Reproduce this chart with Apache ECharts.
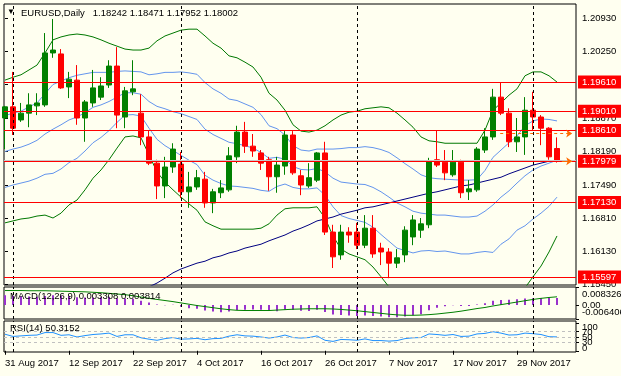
<!DOCTYPE html>
<html><head><meta charset="utf-8">
<script src="https://cdn.jsdelivr.net/npm/echarts@6/dist/echarts.min.js"></script>
<style>html,body{margin:0;padding:0;background:#FFFFF0;}#c{width:621px;height:376px;}</style>
</head><body><div id="c"></div>
<script>
// ---- price data (EURUSD daily, bar index 0 = 31 Aug 2017) ----
const openP  = [1.1887,1.1910,1.1883,1.1897,1.1912,1.1914,1.2021,1.2019,1.1951,1.1965,
                1.1887,1.1918,1.1930,1.1955,1.1994,1.1889,1.1941,1.1897,1.1848,1.1794,
                1.1747,1.1786,1.1792,1.1735,1.1745,1.1761,1.1712,1.1733,1.1739,1.1807,
                1.1858,1.1829,1.1815,1.1801,1.1766,1.1788,1.1852,1.1768,1.1747,1.1759,
                1.1815,1.1652,1.1605,1.1652,1.1652,1.1625,1.1660,1.1619,1.1611,1.1588,
                1.1605,1.1642,1.1656,1.1667,1.1801,1.1796,1.1770,1.1796,1.1735,1.1739,
                1.1821,1.1848,1.1930,1.1897,1.1838,1.1848,1.1903,1.1889,1.1866,1.18242];
const closeP = [1.1910,1.1866,1.1897,1.1914,1.1918,1.2021,1.2027,1.1949,1.1967,1.1887,
                1.1920,1.1949,1.1953,1.1994,1.1893,1.1943,1.1947,1.1848,1.1794,1.1747,
                1.1786,1.1823,1.1735,1.1745,1.1764,1.1712,1.1735,1.1743,1.1809,1.1858,
                1.1829,1.1819,1.1794,1.1766,1.1790,1.1852,1.1774,1.1749,1.1764,1.1815,
                1.1652,1.1601,1.1652,1.1646,1.1625,1.1660,1.1607,1.1611,1.1588,1.1599,
                1.1656,1.1677,1.1669,1.1798,1.1790,1.1774,1.1796,1.1733,1.1741,1.1823,
                1.1848,1.1930,1.1897,1.1838,1.1848,1.1903,1.1889,1.1866,1.1807,1.18002];
const lowP   = [1.1823,1.1852,1.1879,1.1868,1.1893,1.1910,1.2011,1.1947,1.1928,1.1873,
                1.1838,1.1910,1.1924,1.1949,1.1866,1.1866,1.1934,1.1831,1.1790,1.1720,
                1.1722,1.1774,1.1722,1.1702,1.1739,1.1702,1.1691,1.1722,1.1735,1.1794,
                1.1815,1.1807,1.1780,1.1737,1.1733,1.1770,1.1770,1.1728,1.1743,1.1755,
                1.1646,1.1578,1.1595,1.1630,1.1617,1.1619,1.1599,1.1584,1.1557,1.1578,
                1.1590,1.1625,1.1640,1.1660,1.1786,1.1759,1.1766,1.1722,1.1718,1.1735,
                1.1815,1.1842,1.1893,1.1827,1.1817,1.1811,1.1862,1.1831,1.1801,1.17952];
const highP  = [1.1912,1.1982,1.1918,1.1938,1.1938,1.2062,1.2091,1.2029,1.1982,1.1996,
                1.1924,1.1986,1.1971,1.2006,1.2033,1.1951,1.2006,1.1936,1.1862,1.1801,
                1.1807,1.1835,1.1817,1.1776,1.1780,1.1776,1.1741,1.1759,1.1827,1.1871,
                1.1879,1.1854,1.1821,1.1807,1.1807,1.1860,1.1860,1.1780,1.1794,1.1817,
                1.1838,1.1667,1.1667,1.1662,1.1671,1.1687,1.1687,1.1630,1.1619,1.1617,
                1.1664,1.1687,1.1681,1.1805,1.1862,1.1821,1.1821,1.1801,1.1759,1.1827,
                1.1866,1.1947,1.1961,1.1907,1.1887,1.1930,1.1941,1.1893,1.1868,1.18471];
// Bollinger bands: outer (green), inner and middle (blue)
const bbUpper2 = [1.1965,1.1971,1.1976,1.1986,1.1996,1.2021,1.2048,1.2054,1.2058,1.2060,
                  1.2058,1.2054,1.2048,1.2041,1.2035,1.2029,1.2027,1.2027,1.2031,1.2046,
                  1.2056,1.2062,1.2068,1.2070,1.2070,1.2056,1.2041,1.2031,1.2015,1.2011,
                  1.2002,1.1992,1.1971,1.1938,1.1924,1.1903,1.1873,1.1860,1.1858,1.1862,
                  1.1871,1.1883,1.1893,1.1899,1.1901,1.1906,1.1908,1.1910,1.1908,1.1897,
                  1.1883,1.1868,1.1848,1.1840,1.1838,1.1835,1.1835,1.1835,1.1835,1.1835,
                  1.1862,1.1903,1.1918,1.1934,1.1947,1.1974,1.1982,1.1982,1.1974,1.1961];
const bbLower2 = [1.1671,1.1675,1.1679,1.1681,1.1685,1.1687,1.1681,1.1691,1.1708,1.1718,
                  1.1739,1.1763,1.1780,1.1801,1.1825,1.1848,1.1850,1.1846,1.1811,1.1776,
                  1.1755,1.1739,1.1724,1.1710,1.1697,1.1673,1.1665,1.1658,1.1658,1.1658,
                  1.1658,1.1658,1.1660,1.1669,1.1687,1.1700,1.1702,1.1702,1.1702,1.1704,
                  1.1681,1.1644,1.1617,1.1607,1.1601,1.1595,1.1580,1.1560,1.1539,null,
                  null,null,null,null,null,null,null,null,null,null,
                  null,null,null,null,1.1516,1.1537,1.1560,1.1582,1.1611,1.1644];
const bbMiddle = [1.1818,1.1823,1.1827,1.1833,1.1841,1.1854,1.1864,1.1873,1.1883,1.1889,
                  1.1898,1.1909,1.1914,1.1921,1.1930,1.1939,1.1939,1.1936,1.1921,1.1911,
                  1.1906,1.1900,1.1896,1.1890,1.1884,1.1864,1.1853,1.1845,1.1837,1.1834,
                  1.1830,1.1825,1.1816,1.1804,1.1806,1.1802,1.1787,1.1781,1.1780,1.1783,
                  1.1776,1.1763,1.1755,1.1753,1.1751,1.1750,1.1744,1.1735,1.1724,1.1712,
                  1.1704,1.1695,1.1691,1.1689,1.1687,1.1687,1.1685,1.1683,1.1683,1.1685,
                  1.1695,1.1708,1.1724,1.1737,1.1753,1.1768,1.1780,1.1788,1.1794,1.1800];
const bbUpper1 = [1.1892,1.1897,1.1901,1.1910,1.1918,1.1937,1.1956,1.1963,1.1970,1.1975,
                  1.1978,1.1981,1.1981,1.1981,1.1983,1.1984,1.1983,1.1982,1.1976,1.1978,
                  1.1981,1.1981,1.1982,1.1980,1.1977,1.1960,1.1947,1.1938,1.1926,1.1923,
                  1.1916,1.1909,1.1894,1.1871,1.1865,1.1852,1.1830,1.1821,1.1819,1.1823,
                  1.1823,1.1823,1.1824,1.1826,1.1826,1.1828,1.1826,1.1822,1.1816,1.1805,
                  1.1793,1.1782,1.1770,1.1764,1.1762,1.1761,1.1760,1.1759,1.1759,1.1760,
                  1.1779,1.1806,1.1821,1.1836,1.1850,1.1871,1.1881,1.1885,1.1884,1.1881];
const bbLower1 = [1.1744,1.1749,1.1753,1.1757,1.1763,1.1771,1.1773,1.1782,1.1795,1.1804,
                  1.1819,1.1836,1.1847,1.1861,1.1878,1.1893,1.1894,1.1891,1.1866,1.1843,
                  1.1830,1.1820,1.1810,1.1800,1.1791,1.1769,1.1759,1.1752,1.1747,1.1746,
                  1.1744,1.1742,1.1738,1.1736,1.1746,1.1751,1.1744,1.1741,1.1741,1.1743,
                  1.1728,1.1704,1.1686,1.1680,1.1676,1.1672,1.1662,1.1647,1.1633,1.1619,
                  1.1614,1.1609,1.1613,1.1614,1.1612,1.1613,1.1610,1.1607,1.1607,1.1610,
                  1.1612,1.1610,1.1627,1.1638,1.1656,1.1665,1.1679,1.1691,1.1705,1.1724];
const longMA = [null,null,null,null,null,null,null,null,null,null,
                null,null,null,null,null,null,null,null,1.1539,1.1547,
                1.1557,1.1568,1.1576,1.1582,1.1588,1.1592,1.1599,1.1603,1.1609,1.1613,
                1.1619,1.1623,1.1627,1.1634,1.1640,1.1646,1.1654,1.1660,1.1667,1.1675,
                1.1679,1.1683,1.1689,1.1693,1.1697,1.1702,1.1704,1.1708,1.1712,1.1716,
                1.1720,1.1724,1.1728,1.1732,1.1735,1.1739,1.1743,1.1747,1.1749,1.1753,
                1.1757,1.1761,1.1765,1.1772,1.1778,1.1784,1.1790,1.1794,1.1798,1.1800];
// MACD(12,26,9): main (histogram) and signal
const macdMain = [0.0045,0.0043,0.0041,0.0040,0.0038,0.0042,0.0045,0.0043,0.0042,0.0036,
                  0.0035,0.0035,0.0036,0.0038,0.0031,0.0030,0.0029,0.0020,0.0012,0.0003,
                  -0.0001,0.0001,-0.0008,-0.0014,-0.0017,-0.0025,-0.0030,-0.0033,-0.0030,-0.0023,
                  -0.0021,-0.0020,-0.0022,-0.0027,-0.0028,-0.0020,-0.0022,-0.0026,-0.0027,-0.0022,
                  -0.0032,-0.0043,-0.0046,-0.0048,-0.0050,-0.0048,-0.0050,-0.0053,-0.0056,-0.0056,
                  -0.0052,-0.0047,-0.0042,-0.0024,-0.0012,-0.0005,-0.0001,-0.0004,-0.0004,0.0003,
                  0.0008,0.0020,0.0023,0.0025,0.0027,0.0030,0.0032,0.0033,0.0033,0.003308];
const macdSignal = [0.0067,0.0067,0.0067,0.0066,0.0066,0.0066,0.0065,0.0064,0.0063,0.0062,
                    0.0061,0.0059,0.0057,0.0054,0.0051,0.0048,0.0043,0.0037,0.0031,0.0026,
                    0.0021,0.0016,0.0010,0.0004,-0.0002,-0.0007,-0.0012,-0.0017,-0.0021,-0.0024,
                    -0.0025,-0.0025,-0.0025,-0.0025,-0.0023,-0.0021,-0.0019,-0.0018,-0.0017,-0.0017,
                    -0.0017,-0.0018,-0.0020,-0.0023,-0.0026,-0.0030,-0.0034,-0.0038,-0.0042,-0.0045,
                    -0.0047,-0.0047,-0.0046,-0.0044,-0.0041,-0.0037,-0.0033,-0.0028,-0.0022,-0.0016,
                    -0.0011,-0.0004,0.0002,0.0008,0.0014,0.0020,0.0026,0.0031,0.0035,0.003814];
// RSI(14)
const rsi = [60,52,54,56,57,66,66,56,58,50,
             55,59,61,64,52,58,58,47,42,38,
             44,48,42,43,45,40,44,45,53,58,
             54,53,50,46,50,57,48,46,48,54,
             38,34,41,40,38,43,37,37,35,37,
             44,47,48,61,59,56,59,52,53,61,
             63,69,64,57,58,64,62,59,51,50.3152];
// levels and labels
const redLevels = [1.19610, 1.19010, 1.18610, 1.17979, 1.17130, 1.15597];
const bidPrice = 1.18002;
const orderLevel = 1.1855;
const priceTicks = [1.2093, 1.2025, 1.1957, 1.1887, 1.1819, 1.1749, 1.1681, 1.1613, 1.1545];
const macdTicks = [0.008326, 0, -0.006406];
const macdTickText = ['0.008326', '0.00', '-0.006406'];
const rsiTicks = [100, 70, 50, 30, 0];
const rsiLevels = [70, 50, 30];
const monthStartBars = [1, 22, 44, 66];
const dateBars = [0, 8, 16, 24, 32, 40, 48, 56, 64];
const dateLabels = ['31 Aug 2017','12 Sep 2017','22 Sep 2017','4 Oct 2017','16 Oct 2017',
                    '26 Oct 2017','7 Nov 2017','17 Nov 2017','29 Nov 2017'];

const FONT = '"Liberation Sans", Arial, sans-serif';
const FS = 9.5;
const last = openP.length - 1;
const pairs = arr => arr.map((v, i) => [i, v]);
const candles = openP.map((o, i) => [i, o, closeP[i], lowP[i], highP[i]]);
const xBase = {type: 'value', min: -0.125, max: 71.375, show: false};
const sepLines = monthStartBars.map(b => ({xAxis: b}));
const sepStyle = {color: '#000', type: [3, 3], width: 1};
const MACD_MIN = -0.006406, MACD_MAX = 0.008326, RSI_MIN = -4.5, RSI_MAX = 108;

// one axis per sub-window label so that overlapping labels all stay visible (as in the original)
function labelAxis(grid, min, max, v, text, pad) {
  return {type: 'value', gridIndex: grid, position: 'right', min: min, max: max,
    axisLine: {show: false}, splitLine: {show: false},
    axisTick: {show: true, customValues: [v], length: 3, lineStyle: {color: '#000'}},
    axisLabel: {customValues: [v], margin: 6, color: '#000', fontFamily: FONT, fontSize: FS, hideOverlap: false,
      formatter: () => '{a|' + text + '}', rich: {a: {fontSize: FS, fontFamily: FONT, color: '#000', padding: pad}}}};
}
const macdPads = [[15, 0, 0, 0], [0, 0, 0, 0], [0, 0, 13, 0]];
const rsiPads = [[8, 0, 0, 0], [2, 0, 0, 0], [0, 0, 0, 0], [0, 0, 1, 0], [0, 0, 5, 0]];

const chart = echarts.init(document.getElementById('c'), null, {renderer: 'canvas'});
const lineS = (data, color) => ({
  type: 'line', xAxisIndex: 0, yAxisIndex: 0, data: pairs(data), showSymbol: false, symbol: 'none',
  lineStyle: {color: color, width: 1}, silent: true, z: 3
});
const ts = {fontSize: FS, fontFamily: FONT, color: '#000', fontWeight: 'normal'};
const gridBase = {left: 4, width: 572, show: true, borderColor: '#000', borderWidth: 1,
                  backgroundColor: 'transparent', containLabel: false, outerBoundsMode: 'none'};

chart.setOption({
  animation: false,
  backgroundColor: '#FFFFF0',
  textStyle: {fontFamily: FONT},
  title: [
    {text: '\u25BC', left: 7, top: 8, padding: 0, textStyle: {fontSize: 8, color: '#000', fontWeight: 'normal'}},
    {text: 'EURUSD,Daily   ' + [openP[last], highP[last], lowP[last], closeP[last]].map(v => v.toFixed(5)).join(' '),
     left: 21, top: 8, padding: 0, textStyle: ts},
    {text: 'MACD(12,26,9) ' + macdMain[last].toFixed(6) + ' ' + macdSignal[last].toFixed(6),
     left: 10, top: 291, padding: 0, textStyle: ts},
    {text: 'RSI(14) ' + rsi[last].toFixed(4),
     left: 10, top: 323, padding: 0, textStyle: ts}
  ],
  grid: [
    Object.assign({top: 4, height: 281}, gridBase),
    Object.assign({top: 287, height: 32}, gridBase),
    Object.assign({top: 321, height: 31}, gridBase)
  ],
  xAxis: [
    Object.assign({gridIndex: 0}, xBase),
    Object.assign({gridIndex: 1}, xBase),
    Object.assign({}, xBase, {gridIndex: 2, show: true,
      axisLine: {show: false},
      splitLine: {show: false},
      axisTick: {show: true, customValues: dateBars, length: 4, lineStyle: {color: '#000'}},
      axisLabel: {customValues: dateBars, formatter: v => dateLabels[dateBars.indexOf(Math.round(v))] || '',
        align: 'left', margin: 6, fontSize: FS, color: '#000', fontFamily: FONT, hideOverlap: false}
    })
  ],
  yAxis: [
    {type: 'value', gridIndex: 0, position: 'right', min: 1.154298, max: 1.212184,
     axisLine: {show: false}, splitLine: {show: false},
     axisTick: {show: true, customValues: priceTicks, length: 3, lineStyle: {color: '#000'}},
     axisLabel: {customValues: priceTicks, formatter: v => v.toFixed(5), margin: 6, fontSize: FS, color: '#000', fontFamily: FONT, hideOverlap: false}},
    {type: 'value', gridIndex: 1, position: 'right', min: MACD_MIN, max: MACD_MAX, show: false},
    {type: 'value', gridIndex: 2, position: 'right', min: RSI_MIN, max: RSI_MAX, show: false},
    ...macdTicks.map((v, k) => labelAxis(1, MACD_MIN, MACD_MAX, v, macdTickText[k], macdPads[k])),
    ...rsiTicks.map((v, k) => labelAxis(2, RSI_MIN, RSI_MAX, v, String(v), rsiPads[k]))
  ],
  series: [
    lineS(bbUpper2, '#007800'),
    lineS(bbLower2, '#007800'),
    lineS(bbUpper1, '#6495ED'),
    lineS(bbMiddle, '#6495ED'),
    lineS(bbLower1, '#6495ED'),
    lineS(longMA, '#000080'),
    {
      type: 'candlestick', xAxisIndex: 0, yAxisIndex: 0, data: candles,
      encode: {x: 0, y: [1, 2, 3, 4]}, barWidth: 5, z: 4, silent: true,
      itemStyle: {color: '#008000', color0: '#FF0000', borderColor: '#008000', borderColor0: '#FF0000', borderWidth: 1},
      markLine: {
        silent: true, symbol: 'none', precision: 5,
        data: [
          ...sepLines.map(d => Object.assign({lineStyle: sepStyle, label: {show: false}}, d)),
          {yAxis: bidPrice, lineStyle: {color: '#C8C8C8', width: 1, type: 'solid'}, label: {show: false}},
          ...redLevels.map(v => ({yAxis: v, lineStyle: {color: '#FF0000', width: 1, type: 'solid'},
            label: {show: true, position: 'end', distance: 2, formatter: () => v.toFixed(5),
              backgroundColor: '#FF0000', color: '#FFFFFF', fontSize: FS, fontFamily: FONT,
              padding: [2, 8, 1, 4]}})),
          [{coord: [61.9, orderLevel], symbol: 'none', lineStyle: {color: '#FF6A00', width: 1, type: [3, 3]}, label: {show: false}},
           {coord: [70.9, orderLevel], symbol: 'arrow', symbolSize: 6}],
          [{coord: [69.6, redLevels[3]], symbol: 'none', lineStyle: {color: '#FF6A00', width: 1, type: 'solid'}, label: {show: false}},
           {coord: [70.9, redLevels[3]], symbol: 'arrow', symbolSize: 6}]
        ]
      }
    },
    {
      type: 'bar', xAxisIndex: 1, yAxisIndex: 1, data: pairs(macdMain), barWidth: 2, silent: true,
      itemStyle: {color: '#9932CC'},
      markLine: {silent: true, symbol: 'none', label: {show: false},
        data: sepLines.map(d => Object.assign({lineStyle: sepStyle}, d))}
    },
    {type: 'line', xAxisIndex: 1, yAxisIndex: 1, data: pairs(macdSignal), symbol: 'none', silent: true,
     lineStyle: {color: '#008000', width: 1}, z: 3},
    {type: 'line', xAxisIndex: 2, yAxisIndex: 2, data: pairs(rsi), symbol: 'none', silent: true,
     lineStyle: {color: '#1E90FF', width: 1}, z: 3,
     markLine: {silent: true, symbol: 'none', label: {show: false},
       data: [
         ...rsiLevels.map(v => ({yAxis: v, lineStyle: {color: '#C0C0C0', type: [3, 3], width: 1}})),
         ...sepLines.map(d => Object.assign({lineStyle: sepStyle}, d))
       ]}}
  ]
});
</script>
</body></html>
